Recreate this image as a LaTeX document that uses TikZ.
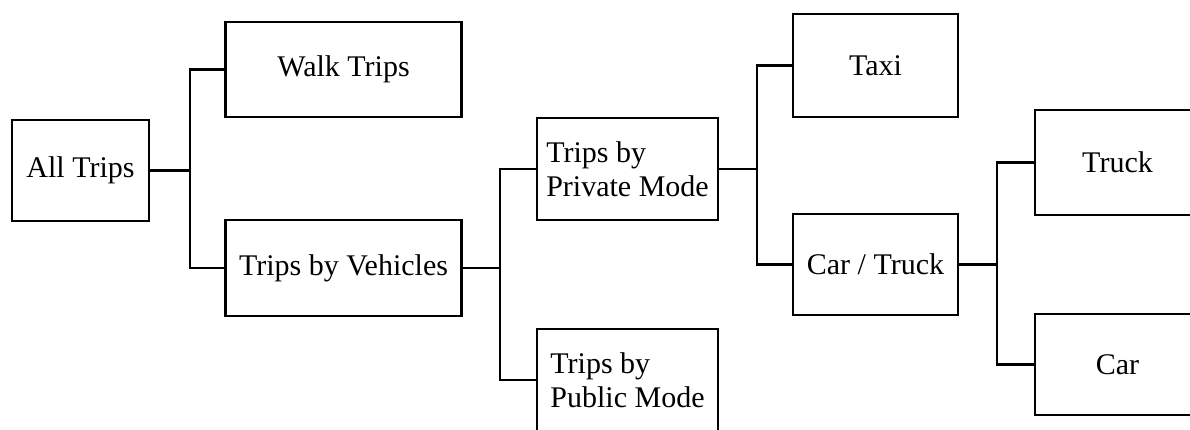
\documentclass[tikz,border=0pt]{standalone}
\usepackage{fontspec}
\setmainfont{Liberation Serif}
\begin{document}
\begin{tikzpicture}[x=1pt,y=-1pt,
  box/.style={draw, line width=2.6pt, rectangle, inner sep=0pt, align=left,
    font=\fontsize{30}{34}\selectfont},
  conn/.style={line width=2.6pt}]
\useasboundingbox (0,0) rectangle (1190,429);
\clip (0,0) rectangle (1190,429);
\node[box, minimum width=137pt, minimum height=101pt] (all) at (80.5,170.5) {All Trips};
\node[box, minimum width=236pt, minimum height=95pt] (walk) at (343.5,69.5) {Walk Trips};
\node[box, minimum width=236pt, minimum height=96pt] (veh) at (343.5,268) {Trips by Vehicles};
\node[box, minimum width=181pt, minimum height=102pt] (priv) at (627.5,169) {Trips by\\Private Mode};
\node[box, minimum width=181pt, minimum height=102pt] (pub) at (627.5,380) {Trips by\\Public Mode};
\node[box, minimum width=165pt, minimum height=103pt] (taxi) at (875.5,65.5) {Taxi};
\node[box, minimum width=165pt, minimum height=101pt] (cartruck) at (875.5,264.5) {Car / Truck};
\node[box, minimum width=165pt, minimum height=105pt] (truck) at (1117.5,162.5) {Truck};
\node[box, minimum width=165pt, minimum height=101pt] (car) at (1117.5,364.5) {Car};
\coordinate (b1) at (190,0);
\coordinate (b2) at (500,0);
\coordinate (b3) at (757,0);
\coordinate (b4) at (997,0);
\draw[conn] (all.east) -- (all.east -| b1);
\draw[conn] (walk.west) -| (b1 |- veh.west) -- (veh.west);
\draw[conn] (veh.east) -- (veh.east -| b2);
\draw[conn] (priv.west) -| (b2 |- pub.west) -- (pub.west);
\draw[conn] (priv.east) -- (priv.east -| b3);
\draw[conn] (taxi.west) -| (b3 |- cartruck.west) -- (cartruck.west);
\draw[conn] (cartruck.east) -- (cartruck.east -| b4);
\draw[conn] (truck.west) -| (b4 |- car.west) -- (car.west);
\end{tikzpicture}
\end{document}
